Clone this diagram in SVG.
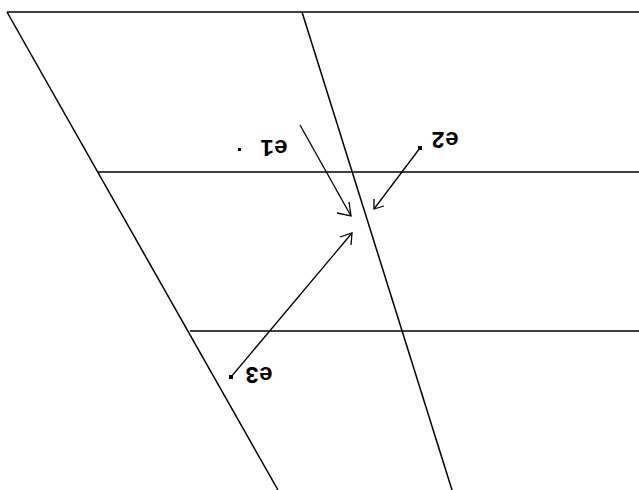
<svg xmlns="http://www.w3.org/2000/svg" width="639" height="490" viewBox="0 0 639 490">
<style>
.ln{stroke:#000;stroke-width:1.5;fill:none}
.ar{stroke:#000;stroke-width:1.3;fill:none}
.lb{font-family:"Liberation Mono","DejaVu Sans Mono",monospace;font-size:23px;font-weight:bold;fill:#000;text-anchor:middle}
</style>
<rect width="639" height="490" fill="#fff"/>
<g id="frame">
<line class="ln" x1="7" y1="12" x2="639" y2="12"/>
<line class="ln" x1="98" y1="172" x2="639" y2="172"/>
<line class="ln" x1="190" y1="331" x2="639" y2="331"/>
<line class="ln" x1="7" y1="12" x2="278" y2="490"/>
<line class="ln" x1="302" y1="12" x2="452" y2="490"/>
</g>
<g id="connectors">
<line class="ar" x1="300" y1="125" x2="351" y2="216"/>
<path class="ar" d="M337,213 L351,216 L349,202"/>
<line class="ar" x1="420" y1="148" x2="374" y2="209"/>
<path class="ar" d="M374,199 L374,209 L384,206"/>
<line class="ar" x1="231" y1="377" x2="352" y2="233"/>
<path class="ar" d="M340,237 L352,233 L351,245"/>
</g>
<g id="e1">
<rect x="238" y="148" width="3" height="3" fill="#000"/>
<text class="lb" x="274" y="156" transform="rotate(180 274 148)">e1</text>
</g>
<g id="e2">
<rect x="418" y="146" width="4" height="4" fill="#000"/>
<text class="lb" x="445" y="148" transform="rotate(180 445 140)">e2</text>
</g>
<g id="e3">
<rect x="229" y="375" width="4" height="4" fill="#000"/>
<text class="lb" x="259" y="383" transform="rotate(180 259 375)">e3</text>
</g>
</svg>
